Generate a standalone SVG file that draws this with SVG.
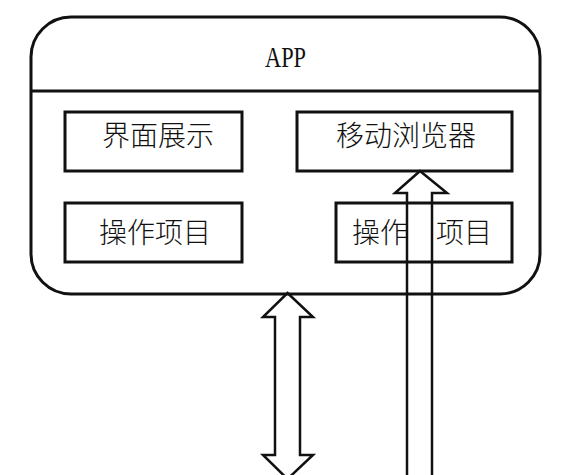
<svg xmlns="http://www.w3.org/2000/svg" width="577" height="475" viewBox="0 0 577 475">
  <defs>
    <style>
      .frame { fill: #fff; stroke: #111; stroke-width: 3; }
      .box { fill: #fff; stroke: #111; stroke-width: 3; }
      .cjk { font-family: "Noto Sans CJK SC", "Noto Sans", sans-serif; font-size: 28px; font-weight: 300; fill: #111; }
      .latin { font-family: "Liberation Serif", serif; font-size: 30px; fill: #111; }
      .arrow { fill: none; stroke: #111; stroke-width: 2.5; stroke-linejoin: miter; }
    </style>
    <clipPath id="shaftGap">
      <rect x="0" y="0" width="407" height="475"/>
      <rect x="432" y="0" width="145" height="475"/>
    </clipPath>
  </defs>
  <rect x="0" y="0" width="577" height="475" fill="#fff"/>

  <g id="app">
    <rect class="frame" x="31" y="17" width="509" height="277" rx="40" ry="40"/>
    <line x1="31" y1="91" x2="540" y2="91" stroke="#111" stroke-width="3"/>
    <text class="latin" x="285.5" y="67" text-anchor="middle" textLength="41" lengthAdjust="spacingAndGlyphs">APP</text>
  </g>

  <g id="ui-display">
    <rect class="box" x="65" y="112" width="177" height="59"/>
    <text class="cjk" x="158" y="146" text-anchor="middle">界面展示</text>
  </g>

  <g id="mobile-browser">
    <rect class="box" x="297" y="112" width="215" height="59"/>
    <text class="cjk" x="406" y="146" text-anchor="middle">移动浏览器</text>
  </g>

  <g id="operation-left">
    <rect class="box" x="65" y="203" width="177" height="59"/>
    <text class="cjk" x="155" y="243" text-anchor="middle">操作项目</text>
  </g>

  <g id="operation-right">
    <rect class="box" x="336" y="203" width="176" height="59"/>
    <text class="cjk" x="352" y="243" clip-path="url(#shaftGap)">操作　项目</text>
  </g>

  <g id="connectors">
    <polygon class="arrow" points="287.5,293 313,317 300,317 300,455 313,455 287.5,479 263,455 275,455 275,317 263,317"/>
    <polygon class="arrow" points="420,171 447,193 432,193 432,480 407,480 407,193 395,193"/>
  </g>
</svg>
